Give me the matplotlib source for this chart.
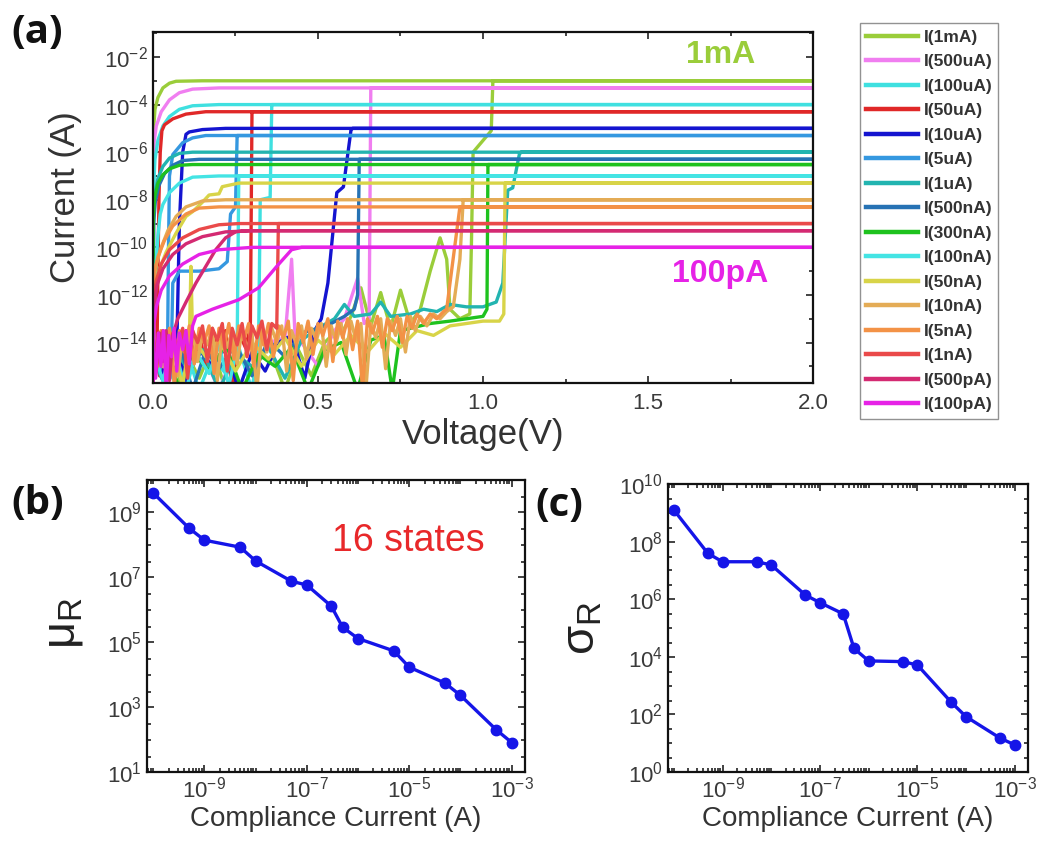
import numpy as np
import matplotlib
matplotlib.use('Agg')
import matplotlib.pyplot as plt
from matplotlib.ticker import (FixedLocator, LogLocator, MultipleLocator, NullFormatter,
                               FormatStrFormatter)
from matplotlib.lines import Line2D

plt.rcParams['font.family'] = ['Liberation Sans', 'DejaVu Sans']
plt.rcParams['mathtext.fontset'] = 'custom'
plt.rcParams['mathtext.rm'] = 'Liberation Sans'
plt.rcParams['mathtext.it'] = 'Liberation Sans:italic'
plt.rcParams['mathtext.bf'] = 'Liberation Sans:bold'

# ---- panel (a): I-V curves, points are (voltage, log10 current) ----
labels = ['I(1mA)', 'I(500uA)', 'I(100uA)', 'I(50uA)', 'I(10uA)', 'I(5uA)',
          'I(1uA)', 'I(500nA)', 'I(300nA)', 'I(100nA)', 'I(50nA)', 'I(10nA)',
          'I(5nA)', 'I(1nA)', 'I(500pA)', 'I(100pA)']
colors = ['#9acd3a', '#f07ef0', '#3fe0e0', '#e02828', '#1414d0', '#3598e0',
          '#22b4b0', '#2672b4', '#1ec21e', '#44e4e4', '#d8d448', '#e4ac56',
          '#f39246', '#ea4a4a', '#d42a72', '#e622e6']

c_1mA = [(0, -14.3), (0.02, -15.2), (0.04, -14.0), (0.07, -16), (0.1, -14.4), (0.14, -15.5),
         (0.18, -14.2), (0.22, -16), (0.26, -14.5), (0.3, -15.3), (0.35, -14.1), (0.4, -16),
         (0.44, -14.3), (0.48, -15.4), (0.52, -14.0), (0.55, -13.6), (0.58, -13.4), (0.6, -12.9),
         (0.63, -11.7), (0.66, -13.3), (0.69, -11.9), (0.72, -13.4), (0.75, -11.8), (0.78, -13.2),
         (0.81, -12.6), (0.84, -11.0), (0.87, -9.6), (0.89, -10.5), (0.9, -12.6), (0.93, -13.0),
         (0.96, -12.8), (0.965, -9.8), (0.97, -6.0), (1.025, -5.1), (1.03, -3.0), (2.0, -3.0),
         (0.15, -3.0), (0.07, -3.02), (0.05, -3.1), (0.03, -3.3), (0.015, -3.7), (0.006, -4.2),
         (0.002, -5.0), (0.0, -16)]
c_500uA = [(0, -14.5), (0.03, -15.6), (0.06, -14.2), (0.1, -15.0), (0.15, -14.4), (0.2, -16),
           (0.25, -14.3), (0.3, -15.2), (0.35, -14.0), (0.4, -13.8), (0.42, -10.5), (0.43, -13.6),
           (0.46, -14.2), (0.5, -15.0), (0.55, -13.5), (0.58, -13.0), (0.62, -11.3), (0.64, -13.2),
           (0.655, -13.0), (0.66, -3.3), (2.0, -3.3), (0.2, -3.3), (0.12, -3.35), (0.08, -3.5),
           (0.05, -3.8), (0.025, -4.3), (0.01, -4.9), (0.003, -5.6), (0.0, -16)]
c_100uA = [(0, -14.8), (0.03, -14.1), (0.06, -15.5), (0.1, -14.3), (0.14, -16), (0.18, -14.6),
           (0.22, -15.3), (0.26, -14.2), (0.3, -16), (0.32, -14.0), (0.325, -8.0), (0.355, -7.9),
           (0.36, -4.0), (2.0, -4.0), (0.2, -4.0), (0.12, -4.05), (0.08, -4.2), (0.05, -4.5),
           (0.03, -4.9), (0.015, -5.5), (0.006, -6.3), (0.002, -7.5), (0.0, -16)]
c_50uA = [(0, -14.0), (0.02, -15.4), (0.05, -13.8), (0.08, -14.6), (0.1, -13.5), (0.12, -14.4),
          (0.14, -13.6), (0.16, -15.0), (0.18, -13.7), (0.2, -14.3), (0.22, -13.5), (0.24, -16),
          (0.26, -13.6), (0.28, -14.2), (0.295, -13.4), (0.3, -4.3), (2.0, -4.3), (0.16, -4.3),
          (0.1, -4.4), (0.06, -4.6), (0.035, -4.85), (0.027, -5.1), (0.022, -6.0), (0.018, -8.0),
          (0.015, -11.0), (0.012, -14.5)]
c_10uA = [(0, -14.4), (0.03, -15.3), (0.07, -14.1), (0.1, -15.6), (0.14, -14.3), (0.18, -15.0),
          (0.22, -14.2), (0.26, -16), (0.3, -14.4), (0.34, -15.2), (0.38, -14.0), (0.42, -13.7),
          (0.46, -15.5), (0.49, -13.5), (0.51, -13.0), (0.53, -11.5), (0.557, -7.7), (0.577, -7.46),
          (0.6, -5.07), (0.605, -5.0), (2.0, -5.0), (0.22, -5.0), (0.15, -5.05), (0.11, -5.15),
          (0.1, -5.25), (0.09, -6.0), (0.08, -9.0), (0.072, -14.3)]
c_5uA = [(0, -14.6), (0.02, -15.2), (0.04, -14.3), (0.055, -14.8), (0.06, -11.5), (0.08, -11.0),
         (0.14, -11.0), (0.2, -10.9), (0.225, -10.6), (0.235, -8.6), (0.25, -8.3), (0.255, -5.3),
         (2.0, -5.3), (0.16, -5.3), (0.12, -5.4), (0.09, -5.6), (0.06, -6.1), (0.05, -7.0),
         (0.047, -10.0), (0.044, -14.5)]
c_1uA = [(0, -14.7), (0.03, -15.6), (0.07, -14.4), (0.11, -15.2), (0.15, -14.3), (0.2, -16),
         (0.25, -14.5), (0.3, -15.0), (0.35, -14.2), (0.4, -15.5), (0.45, -13.9), (0.5, -13.4),
         (0.55, -13.0), (0.58, -12.4), (0.61, -12.9), (0.66, -12.8), (0.69, -12.3), (0.72, -12.9),
         (0.78, -12.8), (0.82, -12.6), (0.86, -12.7), (0.9, -12.4), (0.95, -12.5), (1.0, -12.5),
         (1.04, -12.3), (1.06, -11.5), (1.075, -7.6), (1.09, -7.5), (1.11, -6.1), (1.115, -6.0),
         (2.0, -6.0), (0.12, -6.0), (0.08, -6.05), (0.05, -6.25), (0.03, -6.6), (0.015, -7.1),
         (0.005, -7.8), (0.001, -8.8), (0.0, -16)]
c_500nA = [(0, -14.2), (0.04, -15.0), (0.08, -14.0), (0.12, -16), (0.16, -14.3), (0.2, -15.1),
           (0.25, -14.1), (0.3, -15.4), (0.35, -13.9), (0.4, -14.6), (0.45, -13.6), (0.5, -13.4),
           (0.54, -13.2), (0.58, -12.9), (0.61, -12.6), (0.62, -12.0), (0.625, -6.3), (2.0, -6.3),
           (0.14, -6.3), (0.09, -6.35), (0.06, -6.55), (0.035, -6.9), (0.018, -7.4), (0.007, -8.1),
           (0.002, -9.0), (0.0, -16)]
c_300nA = [(0, -15.0), (0.04, -14.2), (0.08, -16), (0.12, -14.4), (0.17, -15.2), (0.22, -14.1),
           (0.27, -16), (0.32, -14.5), (0.37, -15.0), (0.42, -14.2), (0.47, -16), (0.52, -14.3),
           (0.57, -14.0), (0.62, -16), (0.66, -13.9), (0.7, -13.7), (0.725, -16), (0.75, -13.5),
           (0.78, -13.4), (0.84, -13.2), (0.9, -13.1), (0.95, -13.0), (1.0, -12.9), (1.012, -12.6),
           (1.015, -6.52), (2.0, -6.52), (0.12, -6.52), (0.08, -6.55), (0.05, -6.7), (0.03, -6.95),
           (0.015, -7.3), (0.005, -7.9), (0.001, -8.7), (0.0, -16)]
c_100nA = [(0, -14.3), (0.03, -15.6), (0.06, -14.0), (0.1, -16), (0.13, -14.4), (0.17, -15.3),
           (0.2, -14.1), (0.23, -15.8), (0.255, -14.2), (0.26, -7.0), (2.0, -7.0), (0.2, -7.0),
           (0.12, -7.05), (0.08, -7.3), (0.05, -7.7), (0.03, -8.2), (0.022, -8.6), (0.015, -9.5),
           (0.008, -11.0), (0.003, -13.0), (0.0, -16)]
c_50nA = [(0, -14.1), (0.03, -15.0), (0.06, -14.3), (0.09, -15.8), (0.11, -14.0), (0.115, -10.8),
          (0.12, -13.8), (0.16, -14.6), (0.2, -13.9), (0.25, -15.2), (0.3, -14.0), (0.35, -14.7),
          (0.4, -13.8), (0.45, -15.0), (0.5, -13.9), (0.55, -14.5), (0.6, -13.7), (0.65, -14.4),
          (0.7, -13.6), (0.75, -14.2), (0.8, -13.5), (0.85, -13.7), (0.9, -13.3), (0.95, -13.2),
          (1.0, -13.1), (1.05, -13.1), (1.063, -12.8), (1.067, -7.3), (2.0, -7.3), (0.26, -7.3),
          (0.21, -7.45), (0.2, -7.75), (0.17, -7.8), (0.15, -8.1), (0.12, -8.5), (0.1, -8.7),
          (0.07, -9.4), (0.04, -10.2), (0.02, -10.9), (0.005, -11.6), (0.0, -16)]
c_10nA = [(0, -14.0), (0.015, -15.0), (0.03, -13.8), (0.045, -14.6), (0.06, -13.6), (0.075, -15.4),
          (0.09, -13.7), (0.105, -14.3), (0.12, -13.5), (0.135, -14.8), (0.15, -13.6), (0.165, -14.1),
          (0.18, -13.4), (0.195, -15.6), (0.21, -13.6), (0.225, -14.2), (0.24, -13.5), (0.255, -14.9),
          (0.27, -13.4), (0.285, -14.3), (0.3, -13.6), (0.315, -16), (0.33, -13.5), (0.345, -14.4),
          (0.36, -13.4), (0.375, -14.0), (0.39, -13.3), (0.405, -15.2), (0.42, -13.5), (0.435, -14.1),
          (0.45, -13.3), (0.465, -14.7), (0.48, -13.4), (0.495, -13.9), (0.51, -13.2), (0.525, -15.0),
          (0.54, -13.3), (0.555, -14.0), (0.57, -13.2), (0.585, -14.5), (0.6, -13.1), (0.615, -13.9),
          (0.63, -13.2), (0.645, -16), (0.66, -13.2), (0.675, -13.8), (0.69, -13.0), (0.705, -15.1),
          (0.72, -13.1), (0.735, -13.7), (0.75, -13.0), (0.765, -14.4), (0.78, -12.9), (0.795, -13.5),
          (0.81, -12.9), (0.83, -13.3), (0.85, -12.8), (0.87, -13.0), (0.89, -12.7), (0.91, -12.5),
          (0.93, -10.5), (0.94, -8.0), (2.0, -8.0), (0.22, -8.0), (0.15, -8.05), (0.1, -8.3),
          (0.07, -8.7), (0.045, -9.3), (0.025, -10.0), (0.01, -10.7), (0.003, -11.3), (0.0, -16)]
c_5nA = [(0, -13.7), (0.012, -14.9), (0.024, -13.5), (0.036, -14.3), (0.05, -13.4), (0.065, -15.8),
         (0.08, -13.5), (0.095, -14.4), (0.11, -13.3), (0.125, -14.9), (0.14, -13.4), (0.155, -14.0),
         (0.17, -13.3), (0.185, -15.3), (0.2, -13.4), (0.215, -14.2), (0.23, -13.2), (0.245, -14.7),
         (0.26, -13.3), (0.275, -13.9), (0.29, -13.2), (0.305, -15.0), (0.32, -13.3), (0.335, -14.1),
         (0.35, -13.2), (0.365, -14.6), (0.38, -13.3), (0.395, -13.8), (0.41, -13.1), (0.425, -15.6),
         (0.44, -13.2), (0.455, -14.0), (0.47, -13.1), (0.485, -14.5), (0.5, -13.2), (0.515, -13.7),
         (0.53, -13.0), (0.545, -14.8), (0.56, -13.1), (0.575, -13.8), (0.59, -13.0), (0.605, -14.3),
         (0.62, -13.1), (0.635, -16), (0.65, -13.0), (0.665, -13.6), (0.68, -12.9), (0.695, -14.2),
         (0.71, -13.0), (0.725, -13.5), (0.74, -12.9), (0.755, -14.0), (0.77, -12.9), (0.785, -13.4),
         (0.8, -12.8), (0.82, -13.2), (0.84, -12.8), (0.86, -13.0), (0.88, -12.7), (0.89, -12.6),
         (0.9, -11.5), (0.93, -8.3), (2.0, -8.3), (0.2, -8.3), (0.14, -8.35), (0.1, -8.6),
         (0.06, -9.1), (0.035, -9.7), (0.015, -10.4), (0.005, -11.0), (0.0, -16)]
c_1nA = [(0, -13.8), (0.015, -14.6), (0.03, -13.5), (0.045, -15.0), (0.06, -13.6), (0.075, -14.2),
         (0.09, -13.4), (0.105, -15.5), (0.12, -13.5), (0.135, -14.0), (0.15, -13.3), (0.165, -14.8),
         (0.18, -13.4), (0.195, -13.9), (0.21, -13.2), (0.225, -15.2), (0.24, -13.4), (0.255, -14.1),
         (0.27, -13.2), (0.285, -14.6), (0.3, -13.3), (0.315, -13.8), (0.33, -13.1), (0.345, -14.3),
         (0.36, -13.2), (0.375, -13.4), (0.38, -9.0), (2.0, -9.0), (0.26, -9.0), (0.2, -9.05),
         (0.14, -9.25), (0.09, -9.6), (0.05, -10.1), (0.025, -10.7), (0.01, -11.4), (0.003, -12.0),
         (0.0, -16)]
c_500pA = [(0, -14.0), (0.01, -15.2), (0.02, -13.6), (0.03, -14.8), (0.04, -13.5), (0.05, -15.6),
           (0.06, -13.7), (0.075, -13.0), (0.1, -12.3), (0.13, -11.5), (0.16, -10.8), (0.19, -10.1),
           (0.22, -9.6), (0.25, -9.35), (0.28, -9.3), (2.0, -9.3), (0.3, -9.3), (0.22, -9.35),
           (0.15, -9.55), (0.1, -9.85), (0.06, -10.3), (0.03, -10.9), (0.012, -11.6), (0.003, -12.4),
           (0.0, -16)]
c_100pA = [(0, -14.2), (0.008, -15.5), (0.016, -13.6), (0.024, -15.0), (0.032, -13.5), (0.04, -16),
           (0.048, -13.7), (0.056, -14.6), (0.064, -13.4), (0.072, -15.2), (0.08, -13.6), (0.09, -14.3),
           (0.1, -13.5), (0.11, -14.9), (0.12, -13.3), (0.13, -12.9), (0.18, -12.6), (0.26, -12.2),
           (0.32, -11.7), (0.375, -10.8), (0.42, -10.1), (0.45, -10.0), (2.0, -10.0), (0.3, -10.0),
           (0.2, -10.1), (0.14, -10.3), (0.09, -10.7), (0.05, -11.2), (0.025, -11.8), (0.01, -12.5),
           (0.003, -13.2), (0.0, -16)]

curves = [c_1mA, c_500uA, c_100uA, c_50uA, c_10uA, c_5uA, c_1uA, c_500nA, c_300nA,
          c_100nA, c_50nA, c_10nA, c_5nA, c_1nA, c_500pA, c_100pA]

# ---- panels (b), (c): resistance statistics vs compliance current ----
compliance = [1e-10, 5e-10, 1e-9, 5e-9, 1e-8, 5e-8, 1e-7, 3e-7, 5e-7, 1e-6,
              5e-6, 1e-5, 5e-5, 1e-4, 5e-4, 1e-3]
mu_r = [4.0e9, 3.3e8, 1.4e8, 8.5e7, 3.2e7, 7.6e6, 5.8e6, 1.3e6, 2.9e5, 1.3e5,
        5.4e4, 1.7e4, 5.5e3, 2.3e3, 2.0e2, 81]
sigma_r = [1.26e9, 3.9e7, 2.0e7, 2.0e7, 1.55e7, 1.4e6, 7.6e5, 3.1e5, 1.95e4, 7.2e3,
           6.8e3, 5.2e3, 2.6e2, 83, 15, 8.7]

tick_col = '#3a3a3a'
fig = plt.figure(figsize=(10.45, 8.49), dpi=100)


def style(ax, lsize):
    for s in ax.spines.values():
        s.set_linewidth(1.6)
        s.set_color('#111111')
    ax.tick_params(which='both', direction='in', top=True, right=True,
                   colors='#222222', labelcolor=tick_col, labelsize=lsize, width=1.2)
    ax.tick_params(which='major', length=5)
    ax.tick_params(which='minor', length=3)


# (a)
ax = fig.add_axes([0.1464, 0.5489, 0.6316, 0.4134])
handles = []
for lab, col, pts in zip(labels, colors, curves):
    v = [p[0] for p in pts]
    i = [10.0 ** p[1] for p in pts]
    ax.plot(v, i, color=col, lw=2.4, solid_joinstyle='round')
    handles.append(Line2D([], [], color=col, lw=3.2, label=lab))
ax.set_yscale('log')
ax.set_xlim(0, 2.0)
ax.set_ylim(10 ** -15.7, 10 ** -0.95)
ax.xaxis.set_major_locator(MultipleLocator(0.5))
ax.xaxis.set_minor_locator(MultipleLocator(0.25))
ax.xaxis.set_major_formatter(FormatStrFormatter('%.1f'))
ax.yaxis.set_major_locator(FixedLocator(10.0 ** np.arange(-14, -1, 2)))
ax.yaxis.set_minor_locator(FixedLocator(10.0 ** np.arange(-15, 0, 2)))
ax.yaxis.set_minor_formatter(NullFormatter())
style(ax, 16)
ax.tick_params(axis='x', pad=7)
ax.set_ylabel('Current (A)', fontsize=25, color='#333333')
ax.yaxis.set_label_coords(-0.108, 0.53)
ax.set_xlabel('Voltage(V)', fontsize=25, color='#333333', labelpad=3)
ax.text(0.86, 0.934, '1mA', transform=ax.transAxes, color='#9acd3a', fontsize=23,
        fontweight='bold', ha='center', va='center')
ax.text(0.86, 0.31, '100pA', transform=ax.transAxes, color='#e622e6', fontsize=23,
        fontweight='bold', ha='center', va='center')

fig.legend(handles=handles, loc='upper left', bbox_to_anchor=(0.823, 0.9725),
           prop={'size': 12.5, 'weight': 'bold'}, frameon=True, fancybox=False,
           edgecolor='#777777', handlelength=3.0, handletextpad=0.3, labelspacing=0.54,
           borderpad=0.35, borderaxespad=0, labelcolor='#333333')

# (b)
axb = fig.add_axes([0.1407, 0.0907, 0.3617, 0.3439])
axb.plot(compliance, mu_r, color='#1515e8', lw=2.4, marker='o', ms=7.5)
axb.set_xscale('log')
axb.set_yscale('log')
axb.set_xlim(10 ** -10.12, 10 ** -2.74)
axb.set_ylim(1e1, 1e10)
axb.xaxis.set_major_locator(FixedLocator([1e-9, 1e-7, 1e-5, 1e-3]))
axb.xaxis.set_minor_locator(LogLocator(base=10, subs=np.arange(1, 10), numticks=30))
axb.xaxis.set_minor_formatter(NullFormatter())
axb.yaxis.set_major_locator(FixedLocator([1e1, 1e3, 1e5, 1e7, 1e9]))
axb.yaxis.set_minor_locator(LogLocator(base=10, subs=(1.0, 3.0), numticks=30))
axb.yaxis.set_minor_formatter(NullFormatter())
style(axb, 16)
axb.set_xlabel('Compliance Current (A)', fontsize=20, color='#333333', labelpad=2)
axb.set_ylabel('μ$_{\\rm R}$', fontsize=34, color='#222222')
axb.yaxis.set_label_coords(-0.165, 0.51)
axb.text(0.69, 0.79, '16 states', transform=axb.transAxes, color='#e8282a',
         fontsize=27, ha='center', va='center')

# (c)
axc = fig.add_axes([0.6392, 0.0907, 0.3445, 0.3392])
axc.plot(compliance, sigma_r, color='#1515e8', lw=2.4, marker='o', ms=7.5)
axc.set_xscale('log')
axc.set_yscale('log')
axc.set_xlim(10 ** -10.12, 10 ** -2.73)
axc.set_ylim(1e0, 1e10)
axc.xaxis.set_major_locator(FixedLocator([1e-9, 1e-7, 1e-5, 1e-3]))
axc.xaxis.set_minor_locator(LogLocator(base=10, subs=np.arange(1, 10), numticks=30))
axc.xaxis.set_minor_formatter(NullFormatter())
axc.yaxis.set_major_locator(FixedLocator([1e0, 1e2, 1e4, 1e6, 1e8, 1e10]))
axc.yaxis.set_minor_locator(LogLocator(base=10, subs=(1.0, 3.0), numticks=30))
axc.yaxis.set_minor_formatter(NullFormatter())
style(axc, 16)
axc.set_xlabel('Compliance Current (A)', fontsize=20, color='#333333', labelpad=2)
axc.set_ylabel('σ$_{\\rm R}$', fontsize=34, color='#222222')
axc.yaxis.set_label_coords(-0.175, 0.5)

# panel letters
for txt, x, y in [('(a)', 0.011, 0.985), ('(b)', 0.011, 0.43), ('(c)', 0.512, 0.428)]:
    fig.text(x, y, txt, fontsize=29, fontweight='bold', family='Open Sans',
             va='top', ha='left', color='#111111')

fig.savefig('out.png', dpi=100)
